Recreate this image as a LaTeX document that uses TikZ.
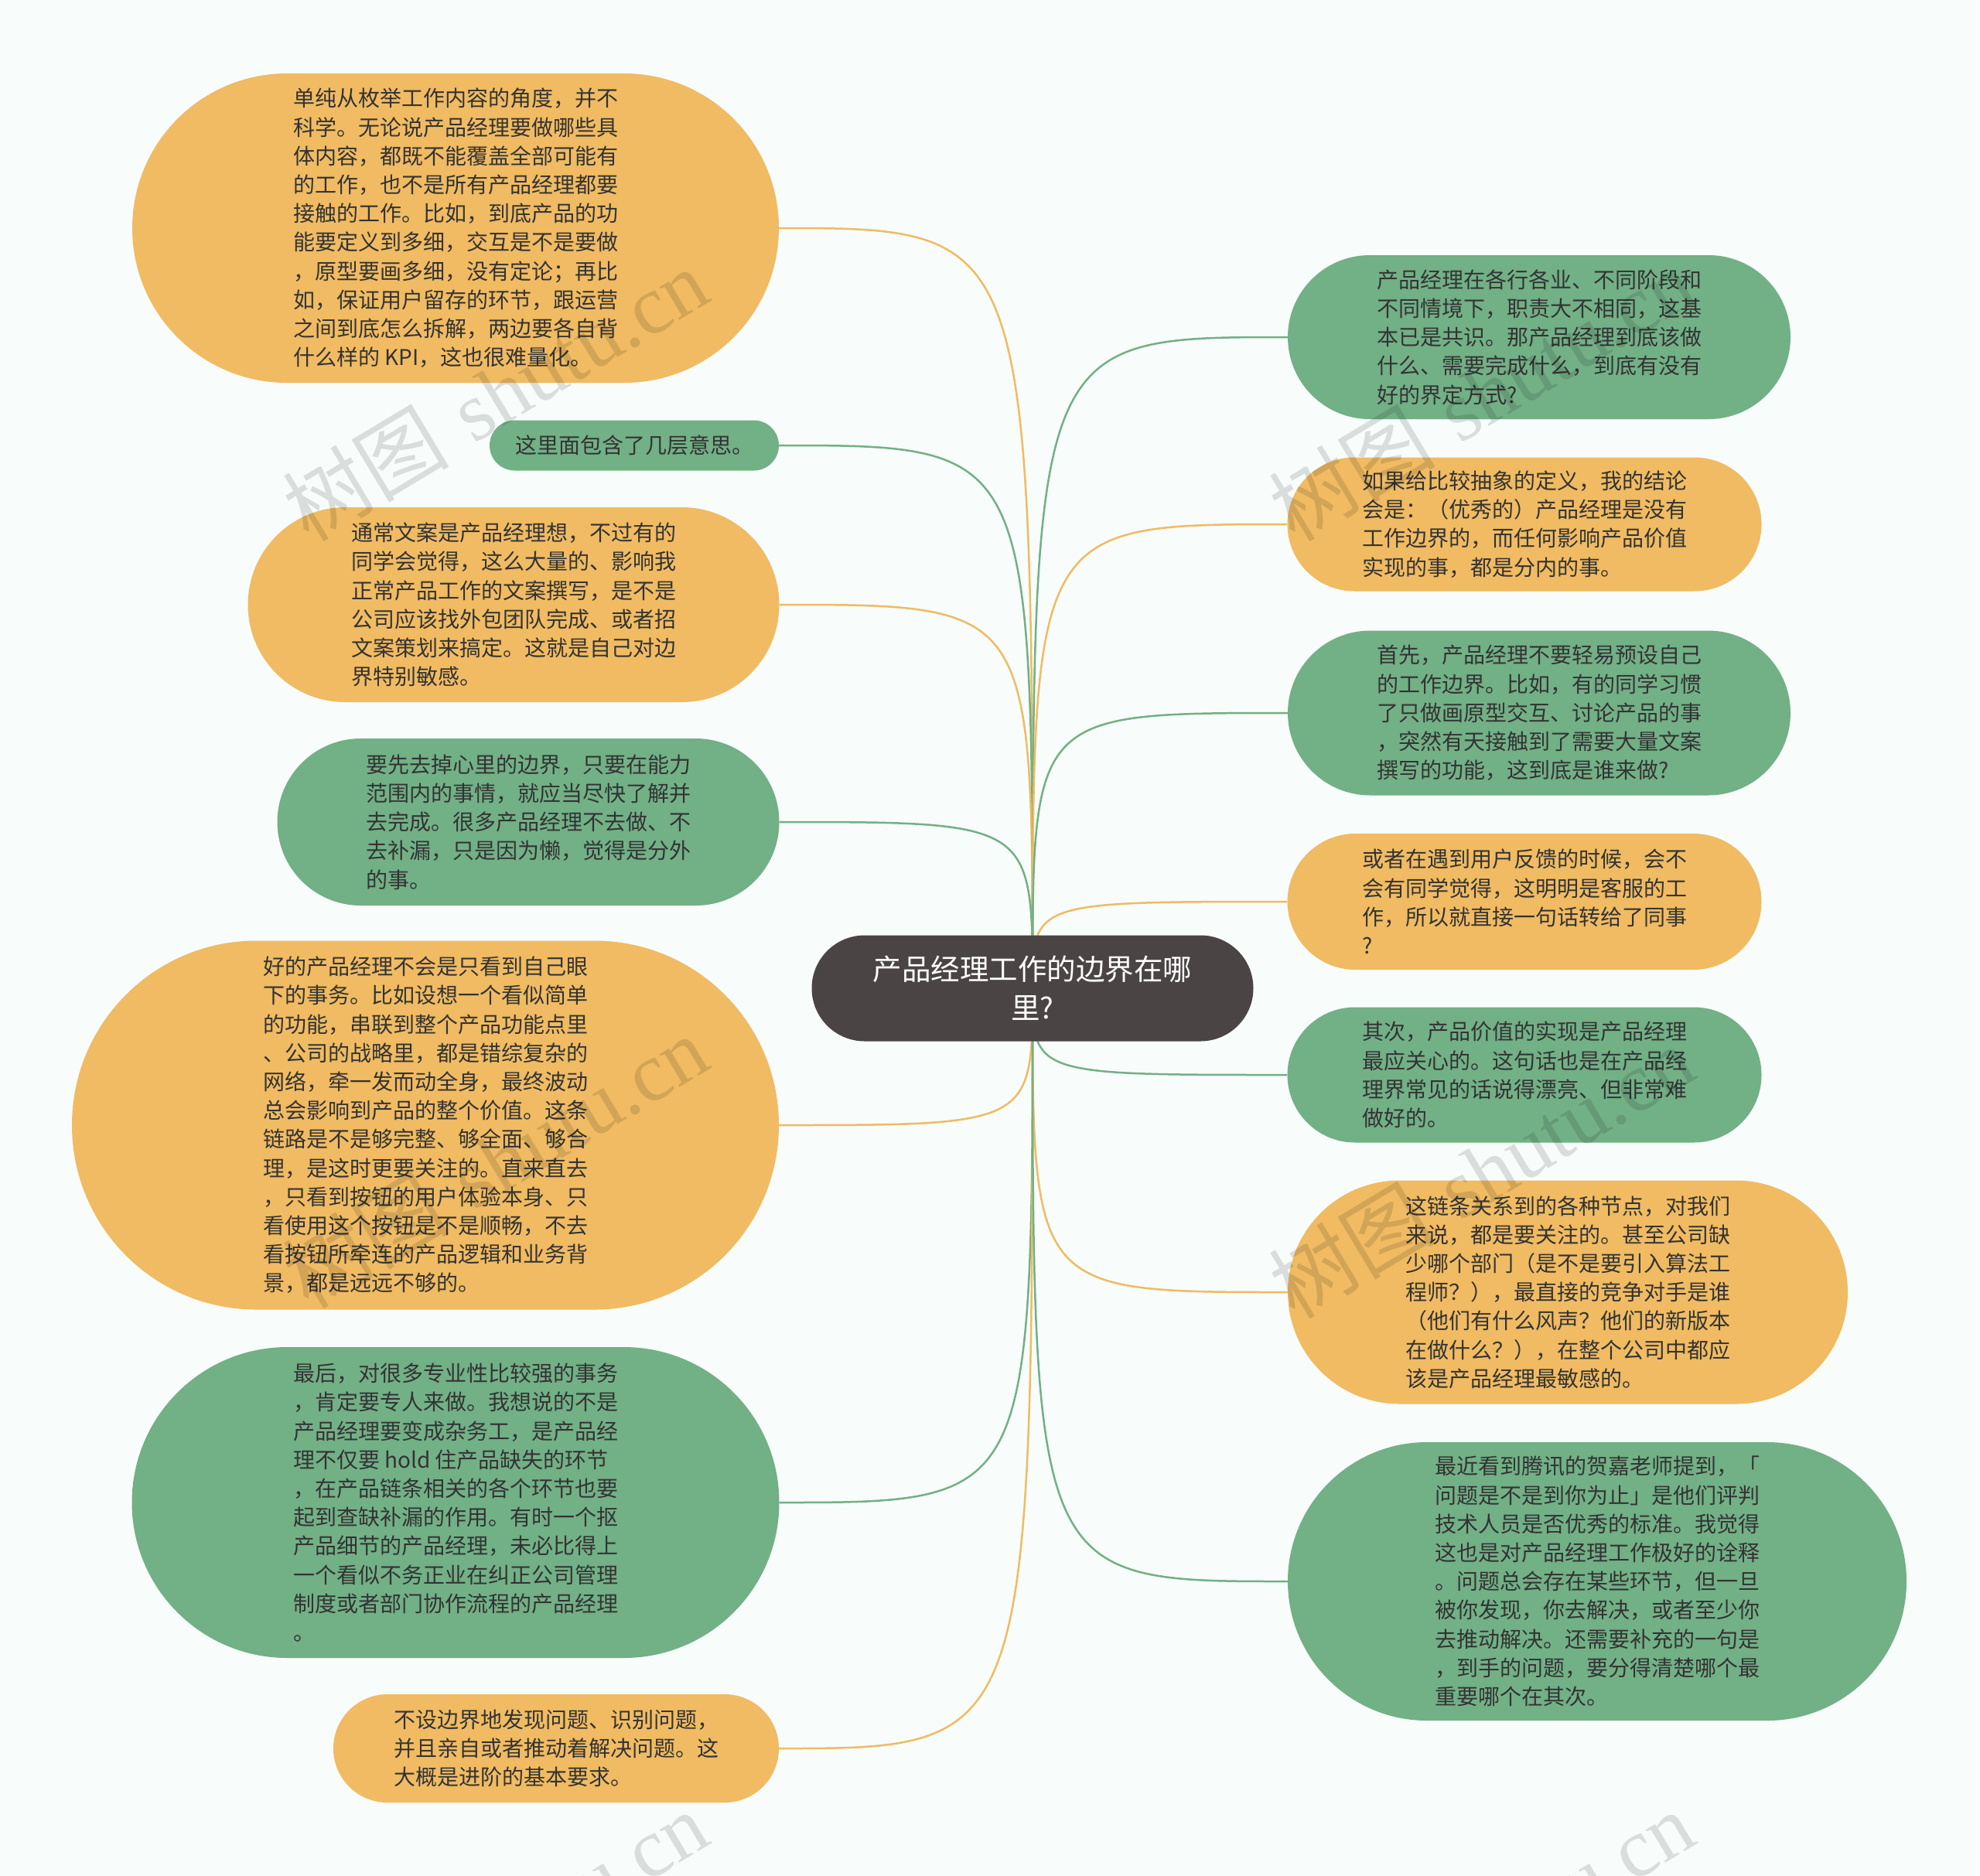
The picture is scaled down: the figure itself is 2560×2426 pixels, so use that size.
\documentclass[tikz,border=0pt]{standalone}
\usepackage{fontspec}
\usetikzlibrary{shapes.misc,backgrounds}
\newfontfamily\cjk{Noto Sans CJK SC}
\newfontfamily\wmserif{Liberation Serif}
\definecolor{bgc}{HTML}{F8FCFB}
\definecolor{nodeO}{HTML}{F0BB62}
\definecolor{nodeG}{HTML}{72B086}
\definecolor{lineO}{HTML}{F0BB62}
\definecolor{lineG}{HTML}{72B086}
\definecolor{ctr}{HTML}{4A4544}
\definecolor{txt}{HTML}{333333}
\tikzset{
  base/.style={rounded rectangle, inner sep=0pt, align=left, text=txt,
    font=\cjk\fontsize{28}{37.2}\selectfont},
  onode/.style={base, fill=nodeO},
  gnode/.style={base, fill=nodeG},
  conO/.style={draw=lineO, line width=2.5pt},
  conG/.style={draw=lineG, line width=2.5pt},
  wm/.style={rotate=31, text=black, opacity=0.12, font=\fontsize{108}{108}\selectfont, inner sep=0pt},
}
\begin{document}
\begin{tikzpicture}[x=1pt,y=-1pt]
\useasboundingbox (0,0) rectangle (2560,2426);
% center
\node[rounded rectangle, fill=ctr, text=white, align=center, inner sep=0pt,
  minimum width=571pt, minimum height=137pt,
  font=\cjk\fontsize{37.5}{50}\selectfont] (c) at (1335,1278) {产品经理工作的边界在哪\\里?};
% left
\node[onode, minimum width=836pt, minimum height=400pt] (L1) at (589,295) {单纯从枚举工作内容的角度，并不\\科学。无论说产品经理要做哪些具\\体内容，都既不能覆盖全部可能有\\的工作，也不是所有产品经理都要\\接触的工作。比如，到底产品的功\\能要定义到多细，交互是不是要做\\，原型要画多细，没有定论；再比\\如，保证用户留存的环节，跟运营\\之间到底怎么拆解，两边要各自背\\什么样的 KPI，这也很难量化。};
\node[gnode, minimum width=374pt, minimum height=65pt] (L2) at (820,576) {这里面包含了几层意思。};
\node[onode, minimum width=687pt, minimum height=252pt] (L3) at (664,782) {通常文案是产品经理想，不过有的\\同学会觉得，这么大量的、影响我\\正常产品工作的文案撰写，是不是\\公司应该找外包团队完成、或者招\\文案策划来搞定。这就是自己对边\\界特别敏感。};
\node[gnode, minimum width=649pt, minimum height=216pt] (L4) at (683,1063) {要先去掉心里的边界，只要在能力\\范围内的事情，就应当尽快了解并\\去完成。很多产品经理不去做、不\\去补漏，只是因为懒，觉得是分外\\的事。};
\node[onode, minimum width=914pt, minimum height=477pt] (L5) at (550,1455) {好的产品经理不会是只看到自己眼\\下的事务。比如设想一个看似简单\\的功能，串联到整个产品功能点里\\、公司的战略里，都是错综复杂的\\网络，牵一发而动全身，最终波动\\总会影响到产品的整个价值。这条\\链路是不是够完整、够全面、够合\\理，是这时更要关注的。直来直去\\，只看到按钮的用户体验本身、只\\看使用这个按钮是不是顺畅，不去\\看按钮所牵连的产品逻辑和业务背\\景，都是远远不够的。};
\node[gnode, minimum width=837pt, minimum height=402pt] (L6) at (589,1943) {最后，对很多专业性比较强的事务\\，肯定要专人来做。我想说的不是\\产品经理要变成杂务工，是产品经\\理不仅要 hold 住产品缺失的环节\\，在产品链条相关的各个环节也要\\起到查缺补漏的作用。有时一个抠\\产品细节的产品经理，未必比得上\\一个看似不务正业在纠正公司管理\\制度或者部门协作流程的产品经理\\。};
\node[onode, minimum width=576pt, minimum height=140pt] (L7) at (719,2261) {不设边界地发现问题、识别问题，\\并且亲自或者推动着解决问题。这\\大概是进阶的基本要求。};
% right
\node[gnode, minimum width=650pt, minimum height=212pt] (R1) at (1990,436) {产品经理在各行各业、不同阶段和\\不同情境下，职责大不相同，这基\\本已是共识。那产品经理到底该做\\什么、需要完成什么，到底有没有\\好的界定方式?};
\node[onode, minimum width=613pt, minimum height=173pt] (R2) at (1971,678) {如果给比较抽象的定义，我的结论\\会是：（优秀的）产品经理是没有\\工作边界的，而任何影响产品价值\\实现的事，都是分内的事。};
\node[gnode, minimum width=650pt, minimum height=213pt] (R3) at (1990,922) {首先，产品经理不要轻易预设自己\\的工作边界。比如，有的同学习惯\\了只做画原型交互、讨论产品的事\\，突然有天接触到了需要大量文案\\撰写的功能，这到底是谁来做?};
\node[onode, minimum width=613pt, minimum height=176pt] (R4) at (1971,1166) {或者在遇到用户反馈的时候，会不\\会有同学觉得，这明明是客服的工\\作，所以就直接一句话转给了同事\\?};
\node[gnode, minimum width=613pt, minimum height=175pt] (R5) at (1971,1390) {其次，产品价值的实现是产品经理\\最应关心的。这句话也是在产品经\\理界常见的话说得漂亮、但非常难\\做好的。};
\node[onode, minimum width=724pt, minimum height=289pt] (R6) at (2027,1671) {这链条关系到的各种节点，对我们\\来说，都是要关注的。甚至公司缺\\少哪个部门（是不是要引入算法工\\程师？），最直接的竞争对手是谁\\（他们有什么风声？他们的新版本\\在做什么？），在整个公司中都应\\该是产品经理最敏感的。};
\node[gnode, minimum width=800pt, minimum height=360pt] (R7) at (2065,2045) {最近看到腾讯的贺嘉老师提到，「\\问题是不是到你为止」是他们评判\\技术人员是否优秀的标准。我觉得\\这也是对产品经理工作极好的诠释\\。问题总会存在某些环节，但一旦\\被你发现，你去解决，或者至少你\\去推动解决。还需要补充的一句是\\，到手的问题，要分得清楚哪个最\\重要哪个在其次。};
\begin{pgfonlayer}{background}
\fill[bgc] (0,0) rectangle (2560,2426);
\draw[conO] (c.center) .. controls (c.center |- L1.east) and (c.center |- L1.east) .. (L1.east);
\draw[conG] (c.center) .. controls (c.center |- L2.east) and (c.center |- L2.east) .. (L2.east);
\draw[conO] (c.center) .. controls (c.center |- L3.east) and (c.center |- L3.east) .. (L3.east);
\draw[conG] (c.center) .. controls (c.center |- L4.east) and (c.center |- L4.east) .. (L4.east);
\draw[conO] (c.center) .. controls (c.center |- L5.east) and (c.center |- L5.east) .. (L5.east);
\draw[conG] (c.center) .. controls (c.center |- L6.east) and (c.center |- L6.east) .. (L6.east);
\draw[conO] (c.center) .. controls (c.center |- L7.east) and (c.center |- L7.east) .. (L7.east);
\draw[conG] (c.center) .. controls (c.center |- R1.west) and (c.center |- R1.west) .. (R1.west);
\draw[conO] (c.center) .. controls (c.center |- R2.west) and (c.center |- R2.west) .. (R2.west);
\draw[conG] (c.center) .. controls (c.center |- R3.west) and (c.center |- R3.west) .. (R3.west);
\draw[conO] (c.center) .. controls (c.center |- R4.west) and (c.center |- R4.west) .. (R4.west);
\draw[conG] (c.center) .. controls (c.center |- R5.west) and (c.center |- R5.west) .. (R5.west);
\draw[conO] (c.center) .. controls (c.center |- R6.west) and (c.center |- R6.west) .. (R6.west);
\draw[conG] (c.center) .. controls (c.center |- R7.west) and (c.center |- R7.west) .. (R7.west);
\end{pgfonlayer}
% watermarks
\begin{scope}
\clip (0,0) rectangle (2560,2426);
\foreach \wx/\wy [count=\i] in {640/510, 1915/510, 640/1502, 1915/1515, 640/2505, 1915/2505}{
  \node[wm] (wm\i) at (\wx,\wy) {{\cjk 树图} {\wmserif shutu.cn}};
}
\end{scope}
\end{tikzpicture}
\end{document}
